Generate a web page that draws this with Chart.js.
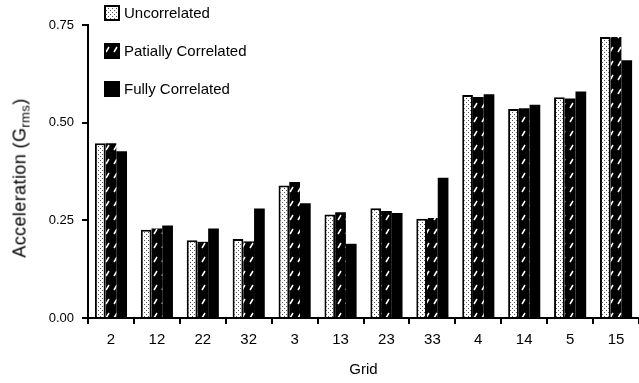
<!DOCTYPE html>
<html>
<head>
<meta charset="utf-8">
<script src="https://cdn.jsdelivr.net/npm/chart.js@4/dist/chart.umd.min.js"></script>
<style>
  html, body { margin: 0; padding: 0; background: #fff; }
  #wrap { position: relative; width: 639px; height: 383px; }
  #ytitle {
    position: absolute; left: 21px; top: 178px;
    transform: translate(-50%, -50%) rotate(-90deg);
    font: 18px "Liberation Sans", Arial, sans-serif; color: #000;
    letter-spacing: 0.4px;
    white-space: nowrap;
  }
  #ytitle sub { font-size: 13px; vertical-align: -4px; }
</style>
</head>
<body>
<div id="wrap">
  <canvas id="chart" width="639" height="383"></canvas>
  <div id="ytitle">Acceleration (G<sub>rms</sub>)</div>
</div>
<script>
// data
const grids = ['2', '12', '22', '32', '3', '13', '23', '33', '4', '14', '5', '15'];
const seriesNames = ['Uncorrelated', 'Patially Correlated', 'Fully Correlated'];
const uncorrelated = [0.447, 0.226, 0.199, 0.202, 0.339, 0.265, 0.281, 0.254, 0.571, 0.535, 0.565, 0.719];
const partial      = [0.447, 0.229, 0.195, 0.196, 0.348, 0.271, 0.274, 0.256, 0.566, 0.537, 0.562, 0.719];
const fully        = [0.427, 0.237, 0.229, 0.280, 0.294, 0.190, 0.269, 0.359, 0.573, 0.546, 0.580, 0.660];
const yTicks = [0, 0.25, 0.5, 0.75];

const FONT = '"Liberation Sans", Arial, sans-serif';

function dotPattern() {
  const c = document.createElement('canvas');
  c.width = 4; c.height = 4;
  const g = c.getContext('2d');
  g.fillStyle = '#fff';
  g.fillRect(0, 0, 4, 4);
  g.fillStyle = '#555';
  g.fillRect(0, 0, 1, 1);
  g.fillRect(2, 2, 1, 1);
  return g.createPattern(c, 'repeat');
}

function hatchPattern() {
  const c = document.createElement('canvas');
  c.width = 8; c.height = 14;
  const g = c.getContext('2d');
  g.fillStyle = '#000';
  g.fillRect(0, 0, 8, 14);
  g.strokeStyle = '#fff';
  g.lineWidth = 1.5;
  g.beginPath();
  g.moveTo(2, 10);
  g.lineTo(5, 5);
  g.stroke();
  return g.createPattern(c, 'repeat');
}

/* ======================
   LEGEND (vertical, top left)
====================== */
const legendPlugin = {
  id: 'vlegend',
  afterDraw(ch) {
    const ctx = ch.ctx;
    const rows = [13, 51, 89];
    ctx.save();
    ch.data.datasets.forEach((ds, i) => {
      const y = rows[i];
      ctx.fillStyle = ds.backgroundColor;
      ctx.fillRect(104, y - 8, 16, 16);
      ctx.strokeStyle = '#000';
      ctx.lineWidth = 2;
      ctx.strokeRect(105, y - 7, 14, 14);
      ctx.fillStyle = '#000';
      ctx.font = '15px ' + FONT;
      ctx.textBaseline = 'middle';
      ctx.textAlign = 'left';
      ctx.fillText(ds.label, 124, y + 1);
    });
    ctx.restore();
  }
};

const chart = new Chart(document.getElementById('chart'), {
  type: 'bar',
  data: {
    labels: grids,
    datasets: [
      { label: seriesNames[0], data: uncorrelated, backgroundColor: dotPattern(), borderColor: '#000', borderWidth: 2 },
      { label: seriesNames[1], data: partial, backgroundColor: hatchPattern(), borderColor: '#000', borderWidth: 0 },
      { label: seriesNames[2], data: fully, backgroundColor: '#000', borderColor: '#000', borderWidth: 0 }
    ]
  },
  options: {
    responsive: false,
    animation: false,
    layout: { padding: { top: 25, right: 0, left: 0, bottom: 0 } },
    datasets: { bar: { categoryPercentage: 0.7, barPercentage: 1.0 } },
    plugins: { legend: { display: false }, tooltip: { enabled: false } },
    scales: {
      x: {
        grid: { offset: true, drawOnChartArea: false, color: '#000', lineWidth: 2, tickLength: 6 },
        border: { color: '#000', width: 2 },
        ticks: { color: '#000', font: { family: FONT, size: 15 }, padding: 7 },
        title: { display: true, text: 'Grid', color: '#000', font: { family: FONT, size: 15 }, padding: { top: 7 } },
        afterFit(s) { s.height = 65; }
      },
      y: {
        min: 0, max: 0.75,
        afterBuildTicks(s) { s.ticks = yTicks.map(v => ({ value: v })); },
        grid: { drawOnChartArea: false, color: '#000', lineWidth: 2, tickLength: 6 },
        border: { color: '#000', width: 2 },
        ticks: { color: '#000', font: { family: FONT, size: 13 }, padding: 8, callback: v => v.toFixed(2) },
        afterFit(s) { s.width = 88; }
      }
    }
  },
  plugins: [legendPlugin]
});
</script>
</body>
</html>
